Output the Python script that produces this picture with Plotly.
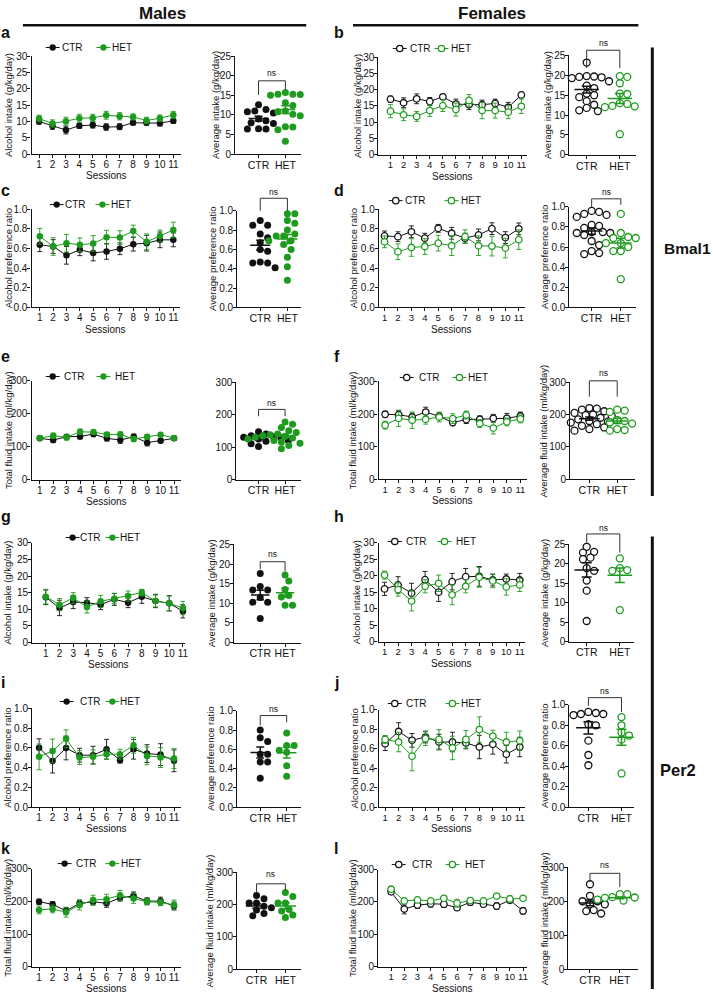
import plotly.graph_objects as go
import numpy as np

W, H = 713, 999
FONT = "Liberation Sans, Arial, sans-serif"
BLACK = "#111111"
GREEN = "#1E9B1E"

SESSIONS = list(range(1, 12))
GROUPS = ["CTR", "HET"]

# ---------------- data ----------------
# a: males Bmal1 alcohol intake
a_ctr = [10.0, 8.6, 7.4, 8.7, 8.9, 8.3, 8.4, 9.6, 9.6, 9.5, 10.2]
a_ctr_sem = [0.8, 1.0, 1.2, 0.8, 0.9, 1.0, 0.9, 0.6, 0.7, 0.9, 0.8]
a_het = [10.9, 9.4, 10.1, 11.0, 11.1, 11.9, 11.6, 11.4, 10.3, 11.0, 12.0]
a_het_sem = [1.0, 1.1, 1.2, 1.2, 1.1, 1.2, 1.1, 0.9, 1.0, 1.0, 1.1]
a_avg_ctr = [12.6, 11.4, 11.0, 10.8, 10.5, 9.0, 8.5, 8.0, 7.8, 6.5, 6.4, 6.4]
a_avg_het = [15.7, 15.3, 15.3, 15.2, 15.0, 14.6, 13.1, 12.4, 11.0, 10.8, 10.2, 9.8, 7.0, 6.9, 6.2, 3.3]

# b: females Bmal1 alcohol intake
b_ctr = [17.1, 16.0, 17.2, 16.4, 17.8, 15.6, 15.4, 15.4, 15.8, 14.6, 18.4]
b_ctr_sem = [0.9, 1.5, 1.5, 1.2, 0.8, 1.5, 1.5, 1.4, 1.3, 1.5, 0.8]
b_het = [13.4, 12.3, 11.8, 13.6, 15.1, 13.9, 16.7, 13.6, 13.6, 13.1, 14.9]
b_het_sem = [2.0, 1.8, 1.5, 1.8, 1.8, 2.0, 1.8, 2.5, 2.3, 2.0, 2.2]
b_avg_ctr = [23.2, 19.8, 19.7, 19.6, 19.5, 19.3, 18.5, 17.4, 16.8, 15.4, 15.0, 14.5, 13.5, 12.6, 11.8, 11.2, 11.0]
b_avg_het = [19.8, 19.6, 18.0, 15.4, 15.3, 13.0, 12.8, 12.3, 12.2, 12.0, 5.2]

# c: males Bmal1 preference ratio
c_ctr = [0.638, 0.62, 0.53, 0.587, 0.554, 0.57, 0.597, 0.644, 0.654, 0.688, 0.688]
c_ctr_sem = [0.07, 0.07, 0.09, 0.06, 0.08, 0.08, 0.06, 0.07, 0.08, 0.08, 0.07]
c_het = [0.725, 0.62, 0.654, 0.638, 0.651, 0.715, 0.711, 0.778, 0.668, 0.728, 0.788]
c_het_sem = [0.08, 0.09, 0.09, 0.07, 0.08, 0.07, 0.07, 0.06, 0.08, 0.06, 0.08]
c_avg_ctr = [0.90, 0.85, 0.85, 0.76, 0.72, 0.67, 0.60, 0.58, 0.47, 0.46, 0.46, 0.41]
c_avg_het = [0.97, 0.97, 0.90, 0.87, 0.80, 0.76, 0.74, 0.74, 0.74, 0.69, 0.69, 0.65, 0.60, 0.52, 0.42, 0.28]

# d: females Bmal1 preference ratio
d_ctr = [0.728, 0.72, 0.77, 0.705, 0.805, 0.755, 0.705, 0.738, 0.802, 0.711, 0.80]
d_ctr_sem = [0.05, 0.05, 0.06, 0.05, 0.04, 0.06, 0.05, 0.06, 0.06, 0.06, 0.06]
d_het = [0.668, 0.567, 0.61, 0.62, 0.654, 0.628, 0.72, 0.628, 0.624, 0.604, 0.69]
d_het_sem = [0.06, 0.08, 0.09, 0.08, 0.08, 0.10, 0.07, 0.10, 0.10, 0.10, 0.10]
d_avg_ctr = [0.96, 0.95, 0.93, 0.92, 0.90, 0.82, 0.81, 0.79, 0.75, 0.75, 0.74, 0.74, 0.73, 0.72, 0.66, 0.62, 0.56, 0.54, 0.53]
d_avg_het = [0.93, 0.74, 0.70, 0.69, 0.69, 0.64, 0.64, 0.60, 0.56, 0.56, 0.28]

# e: males Bmal1 total fluid intake
e_ctr = [125, 120, 130, 131, 138, 125, 120, 130, 112, 118, 125]
e_ctr_sem = [6, 8, 6, 8, 8, 8, 10, 8, 10, 6, 6]
e_het = [126, 133, 128, 145, 144, 137, 137, 123, 130, 136, 126]
e_het_sem = [6, 8, 8, 8, 6, 6, 8, 8, 6, 6, 6]
e_avg_ctr = [147, 140, 135, 132, 130, 128, 125, 122, 120, 118, 110, 102]
e_avg_het = [177, 170, 160, 150, 145, 140, 138, 136, 135, 133, 132, 130, 130, 128, 125, 120, 116, 112, 105, 95]

# f: females Bmal1 total fluid intake
f_ctr = [199, 198, 191, 206, 193, 174, 183, 184, 187, 187, 194]
f_ctr_sem = [10, 12, 12, 15, 10, 10, 12, 10, 12, 15, 12]
f_het = [166, 187, 181, 184, 191, 186, 197, 171, 157, 176, 185]
f_het_sem = [12, 25, 25, 15, 15, 15, 12, 12, 18, 12, 12]
f_avg_ctr = [220, 218, 215, 210, 205, 200, 198, 195, 190, 185, 180, 178, 175, 170, 165, 160, 155, 150]
f_avg_het = [215, 212, 208, 183, 180, 176, 172, 155, 152, 150]

# g: males Per2 alcohol intake
g_ctr = [13.6, 10.4, 12.2, 12.0, 11.4, 13.0, 12.0, 13.8, 12.5, 11.8, 9.4]
g_ctr_sem = [2.2, 2.3, 2.0, 1.5, 1.5, 1.8, 1.5, 2.0, 2.0, 2.3, 2.0]
g_het = [13.8, 11.4, 13.4, 10.7, 12.4, 13.2, 14.0, 15.0, 12.5, 11.8, 10.4]
g_het_sem = [2.2, 1.8, 1.6, 1.8, 1.8, 1.5, 1.5, 1.0, 1.8, 2.2, 2.0]
g_avg_ctr = [17.6, 14.3, 13.4, 13.4, 11.5, 10.3, 10.3, 6.1]
g_avg_het = [17.2, 15.7, 13.5, 12.0, 11.6, 9.5, 9.5]

# h: females Per2 alcohol intake
h_ctr = [16.0, 17.2, 14.7, 18.8, 15.0, 18.2, 19.7, 19.8, 18.7, 19.0, 18.7]
h_ctr_sem = [2.0, 2.5, 3.0, 2.5, 2.8, 2.5, 2.5, 3.0, 1.8, 1.5, 2.0]
h_het = [20.2, 15.8, 12.3, 16.8, 17.7, 14.2, 16.8, 19.5, 18.4, 16.6, 17.2]
h_het_sem = [1.2, 2.0, 3.0, 2.0, 2.5, 3.0, 2.0, 3.0, 2.0, 2.5, 2.0]
h_avg_ctr = [24.4, 23.1, 22.9, 21.6, 21.2, 18.9, 18.2, 15.7, 13.1, 5.3]
h_avg_het = [21.4, 18.9, 18.4, 18.2, 17.4, 8.1]

# i: males Per2 preference ratio
i_ctr = [0.603, 0.467, 0.60, 0.527, 0.527, 0.587, 0.477, 0.587, 0.543, 0.533, 0.47]
i_ctr_sem = [0.09, 0.12, 0.12, 0.07, 0.09, 0.10, 0.03, 0.10, 0.09, 0.11, 0.11]
i_het = [0.51, 0.57, 0.693, 0.503, 0.51, 0.537, 0.537, 0.627, 0.52, 0.503, 0.493]
i_het_sem = [0.13, 0.12, 0.09, 0.07, 0.07, 0.05, 0.05, 0.08, 0.09, 0.10, 0.10]
i_avg_ctr = [0.80, 0.72, 0.68, 0.55, 0.55, 0.47, 0.47, 0.30]
i_avg_het = [0.77, 0.64, 0.64, 0.59, 0.57, 0.43, 0.32]

# j: females Per2 preference ratio
j_ctr = [0.652, 0.777, 0.686, 0.72, 0.669, 0.669, 0.659, 0.618, 0.645, 0.544, 0.618]
j_ctr_sem = [0.07, 0.09, 0.07, 0.06, 0.08, 0.10, 0.06, 0.12, 0.10, 0.09, 0.10]
j_het = [0.696, 0.669, 0.524, 0.703, 0.696, 0.608, 0.696, 0.797, 0.73, 0.669, 0.682]
j_het_sem = [0.04, 0.10, 0.15, 0.07, 0.10, 0.12, 0.09, 0.13, 0.06, 0.10, 0.10]
j_avg_ctr = [0.93, 0.92, 0.91, 0.91, 0.90, 0.81, 0.80, 0.65, 0.51, 0.41]
j_avg_het = [0.88, 0.80, 0.73, 0.70, 0.66, 0.33]

# k: males Per2 total fluid intake
k_ctr = [199, 191, 171, 194, 199, 194, 211, 217, 201, 201, 186]
k_ctr_sem = [8, 8, 10, 10, 10, 12, 10, 12, 10, 12, 12]
k_het = [174, 177, 167, 189, 204, 207, 219, 209, 199, 197, 189]
k_het_sem = [12, 12, 15, 15, 15, 15, 15, 15, 10, 10, 15]
k_avg_ctr = [228, 218, 205, 205, 195, 190, 183, 172, 165]
k_avg_het = [237, 225, 205, 205, 185, 180, 168, 160]

# l: females Per2 total fluid intake
l_ctr = [231, 178, 190, 194, 193, 182, 199, 193, 187, 205, 172]
l_ctr_sem = [8, 15, 10, 10, 10, 8, 10, 8, 10, 8, 10]
l_het = [239, 203, 206, 203, 211, 196, 204, 203, 218, 209, 211]
l_het_sem = [8, 8, 8, 8, 6, 12, 8, 8, 8, 10, 6]
l_avg_ctr = [250, 216, 200, 200, 191, 191, 174, 171, 164]
l_avg_het = [221, 221, 212, 211, 210, 208, 205, 202, 200]

DATA = {
    "a": (a_ctr, a_ctr_sem, a_het, a_het_sem, a_avg_ctr, a_avg_het),
    "b": (b_ctr, b_ctr_sem, b_het, b_het_sem, b_avg_ctr, b_avg_het),
    "c": (c_ctr, c_ctr_sem, c_het, c_het_sem, c_avg_ctr, c_avg_het),
    "d": (d_ctr, d_ctr_sem, d_het, d_het_sem, d_avg_ctr, d_avg_het),
    "e": (e_ctr, e_ctr_sem, e_het, e_het_sem, e_avg_ctr, e_avg_het),
    "f": (f_ctr, f_ctr_sem, f_het, f_het_sem, f_avg_ctr, f_avg_het),
    "g": (g_ctr, g_ctr_sem, g_het, g_het_sem, g_avg_ctr, g_avg_het),
    "h": (h_ctr, h_ctr_sem, h_het, h_het_sem, h_avg_ctr, h_avg_het),
    "i": (i_ctr, i_ctr_sem, i_het, i_het_sem, i_avg_ctr, i_avg_het),
    "j": (j_ctr, j_ctr_sem, j_het, j_het_sem, j_avg_ctr, j_avg_het),
    "k": (k_ctr, k_ctr_sem, k_het, k_het_sem, k_avg_ctr, k_avg_het),
    "l": (l_ctr, l_ctr_sem, l_het, l_het_sem, l_avg_ctr, l_avg_het),
}

INTAKE_L = "Alcohol intake (g/kg/day)"
PREF_L = "Alcohol preference ratio"
FLUID_L = "Total fluid intake (ml/kg/day)"
INTAKE_S = "Average intake (g/kg/day)"
PREF_S = "Average preference ratio"
FLUID_S = "Average fluid intake (ml/kg/day)"

# ---------------- layout spec (pixels) ----------------
# line: x0, x1, tick1 px, tick11 px, ytop, ybot ; scatter: x0, x1, ctr px, het px, ytop, ybot
P = {
 "a": dict(fem=False, kind="int", zero=False, line=(31.7, 182, 39.3, 174.3, 50.7, 150), sc=(236.5, 303, 260, 287, 50.7, 150),
           lt=8, st=216, leg=(53, 61, 104, 112, 42), br=(18.7, 15.1, 16.5, 20.8), ltitle=INTAKE_L, stitle=INTAKE_S),
 "b": dict(fem=True, kind="int", zero=True, line=(380.5, 530, 392.7, 524.3, 51.7, 150.7), sc=(572.7, 640, 590, 623.3, 50, 150.7),
           lt=360, st=550, leg=(402, 411, 444, 453, 43), br=(26.3, 21.8, 21.8, 28.1), ltitle=INTAKE_L, stitle=INTAKE_S),
 "c": dict(fem=False, kind="pref", zero=False, line=(31.7, 181, 40, 174.3, 205.7, 305), sc=(238.5, 303, 261.7, 289, 207.3, 305),
           lt=8, st=213, leg=(57, 64, 103, 111, 201), br=(1.13, 1.0, 1.0, 1.19), ltitle=PREF_L, stitle=PREF_S),
 "d": dict(fem=True, kind="pref", zero=False, line=(381, 528, 386.7, 521.7, 205.7, 305), sc=(572.7, 640, 595, 624.3, 203.3, 305),
           lt=355, st=547, leg=(398, 406, 454, 463, 197), br=(1.08, 1.0, 1.02, 1.15), ltitle=PREF_L, stitle=PREF_S),
 "e": dict(fem=False, kind="fluid", zero=False, line=(31.7, 182, 40, 175, 379.3, 479.3), sc=(237.7, 303, 260, 286.7, 380.7, 479.3),
           lt=8, st=None, leg=(53, 63, 104, 115, 375), br=(216, 195, 195, 236), ltitle=FLUID_L, stitle=None),
 "f": dict(fem=True, kind="fluid", zero=False, line=(380.7, 530, 387.3, 523.3, 380, 479), sc=(573.3, 639, 592.7, 620.7, 380.7, 479),
           lt=354, st=547, leg=(409, 420, 462, 470, 376), br=(304, 255, 255, 328), ltitle=FLUID_L, stitle=FLUID_S),
 "g": dict(fem=False, kind="int", zero=True, line=(32.3, 186, 46, 184, 543.3, 644.3), sc=(235.5, 303, 261.7, 286.7, 545, 644.3),
           lt=8, st=213, leg=(73, 79, 113, 120, 538), br=(20.6, 18.7, 18.1, 22.6), ltitle=INTAKE_L, stitle=INTAKE_S),
 "h": dict(fem=True, kind="int", zero=False, line=(380.7, 528, 386.7, 522.7, 543.3, 643.3), sc=(572.7, 638, 590, 623.3, 545, 643.3),
           lt=358, st=547, leg=(397, 407, 447, 458, 542), br=(27.7, 25.4, 22.9, 29.2), ltitle=INTAKE_L, stitle=INTAKE_S),
 "i": dict(fem=False, kind="pref", zero=False, line=(32.3, 182, 39.3, 175, 711, 811), sc=(238.5, 303, 261.7, 288.3, 713.3, 811),
           lt=8, st=212, leg=(67, 79, 113, 120, 704), br=(0.95, 0.85, 0.88, 1.02), ltitle=PREF_L, stitle=PREF_S),
 "j": dict(fem=True, kind="pref", zero=False, line=(380.7, 528, 387.3, 522.7, 712.3, 811), sc=(572.7, 638, 591.7, 625, 707.3, 811),
           lt=357, st=547, leg=(397, 407, 455, 463, 706), br=(1.07, 0.99, 0.93, 1.13), ltitle=PREF_L, stitle=PREF_S),
 "k": dict(fem=False, kind="fluid", zero=False, line=(32, 182, 39.3, 175, 873.3, 972.3), sc=(238.5, 303, 258, 287, 876.7, 975),
           lt=8, st=211, leg=(65, 75, 113, 121, 868), br=(264, 239, 244, 295), ltitle=FLUID_L, stitle=FLUID_S),
 "l": dict(fem=True, kind="fluid", zero=True, line=(380.3, 530, 393.3, 526, 874, 972.3), sc=(571.7, 642, 593.3, 623.3, 871.7, 975),
           lt=354, st=547, leg=(401, 413, 455, 467, 869), br=(282, 261, 242, 306), ltitle=FLUID_L, stitle=FLUID_S),
}
LETTER_POS = {"a": (0, 27), "b": (335, 27), "c": (0, 187), "d": (335, 187), "e": (0, 355), "f": (335, 355),
              "g": (0, 517), "h": (335, 517), "i": (0, 685), "j": (335, 685), "k": (0, 853), "l": (335, 853)}

YSPEC = {  # line ymax, line dtick, scatter ymax, scatter dtick, format
    "int": (30, 5, 25, 5, None),
    "pref": (1.0, 0.2, 1.0, 0.2, ".1f"),
    "fluid": (300, 100, 300, 100, None),
}


def X(x):
    return x / W


def Y(y):
    return 1 - y / H


fig = go.Figure()
layout = {}
shapes = []
ann = []


def add_text(x, y, text, size, xanchor="center", angle=0):
    ann.append(dict(x=X(x), y=Y(y), xref="paper", yref="paper", text=text, showarrow=False,
                    xanchor=xanchor, yanchor="middle", textangle=angle, borderpad=0,
                    font=dict(family=FONT, size=size, color=BLACK)))


def axis_style(**kw):
    d = dict(showline=True, linecolor=BLACK, linewidth=1.2, ticks="outside", ticklen=3, tickwidth=1.2,
             tickcolor=BLACK, showgrid=False, zeroline=False, fixedrange=True, tickangle=0,
             ticklabelstandoff=-2,
             tickfont=dict(family=FONT, size=10, color=BLACK))
    d.update(kw)
    return d


def swarm(vals, ymax, ytop, ybot, unitpx, diam=6.8):
    ypx = [ybot - v / ymax * (ybot - ytop) for v in vals]
    order = sorted(range(len(vals)), key=lambda i: -vals[i])
    placed = []
    offs = [0.0] * len(vals)
    cands = [0.0]
    for k in range(1, 12):
        cands += [k * diam * 0.55, -k * diam * 0.55]
    for i in order:
        for c in cands:
            ok = all((c - px_) ** 2 + (ypx[i] - py_) ** 2 >= (diam * 0.98) ** 2 for px_, py_ in placed)
            if ok:
                offs[i] = c / unitpx
                placed.append((c, ypx[i]))
                break
    return offs


n = 0
for letter, spec in P.items():
    ctr, ctr_sem, het, het_sem, avg_ctr, avg_het = DATA[letter]
    lymax, ldt, symax, sdt, fmt = YSPEC[spec["kind"]]
    fem = spec["fem"]

    # ---- line panel ----
    n += 1
    x0, x1, t1, t11, yt, yb = spec["line"]
    unit = (t11 - t1) / 10
    xr = [1 + (x0 - t1) / unit, 1 + (x1 - t1) / unit]
    tv = list(range(0 if spec["zero"] else 1, 12))
    layout[f"xaxis{n}"] = axis_style(domain=[X(x0), X(x1)], range=xr, tickvals=tv, anchor=f"y{n}",
                                     tickfont=dict(family=FONT, size=9.5 if fem else 10, color=BLACK))
    layout[f"yaxis{n}"] = axis_style(domain=[Y(yb), Y(yt)], range=[0, lymax], dtick=ldt, tick0=0,
                                     tickformat=fmt, anchor=f"x{n}")
    for vals, sem, col in ((ctr, ctr_sem, BLACK), (het, het_sem, GREEN)):
        fig.add_trace(go.Scatter(
            x=SESSIONS, y=vals, mode="lines+markers", xaxis=f"x{n}", yaxis=f"y{n}",
            line=dict(color=col, width=1),
            marker=dict(size=6.5, color="white" if fem else col, symbol="circle",
                        line=dict(color=col, width=1.3 if fem else 0)),
            error_y=dict(type="data", array=sem, color=col, thickness=0.9, width=2.5),
            showlegend=False, cliponaxis=False))
    add_text((x0 + x1) / 2, yb + 22, "Sessions", 10)
    add_text(spec["lt"], (yt + yb) / 2, spec["ltitle"], 9.5, angle=-90)
    # legend
    mc, tc, mh, th, ly = spec["leg"]
    for mx, tx, col, name in ((mc, tc, BLACK, "CTR"), (mh, th, GREEN, "HET")):
        shapes.append(dict(type="line", xref="paper", yref="paper", x0=X(mx - 7), x1=X(mx + 7), y0=Y(ly), y1=Y(ly),
                           line=dict(color=col, width=1)))
        shapes.append(dict(type="circle", xref="paper", yref="paper", x0=X(mx - 3.2), x1=X(mx + 3.2),
                           y0=Y(ly + 3.2), y1=Y(ly - 3.2), fillcolor="white" if fem else col,
                           line=dict(color=col, width=1.3 if fem else 0)))
        add_text(tx, ly, name, 10, xanchor="left")

    # ---- scatter panel ----
    n += 1
    sx0, sx1, cpx, hpx, syt, syb = spec["sc"]
    su = hpx - cpx
    sxr = [(sx0 - cpx) / su, (sx1 - cpx) / su]
    layout[f"xaxis{n}"] = axis_style(domain=[X(sx0), X(sx1)], range=sxr, tickvals=[0, 1], ticktext=GROUPS,
                                     anchor=f"y{n}", tickfont=dict(family=FONT, size=10.5, color=BLACK))
    layout[f"yaxis{n}"] = axis_style(domain=[Y(syb), Y(syt)], range=[0, symax], dtick=sdt, tick0=0,
                                     tickformat=fmt, anchor=f"x{n}")
    for gi, (vals, col) in enumerate(((avg_ctr, BLACK), (avg_het, GREEN))):
        offs = swarm(vals, symax, syt, syb, su)
        fig.add_trace(go.Scatter(
            x=[gi + o for o in offs], y=vals, mode="markers", xaxis=f"x{n}", yaxis=f"y{n}",
            marker=dict(size=7, color="white" if fem else col, line=dict(color=col, width=1.3 if fem else 0)),
            showlegend=False, cliponaxis=False))
        m = float(np.mean(vals))
        s = float(np.std(vals, ddof=1) / np.sqrt(len(vals)))
        hw, cw = 0.37, 0.15
        fig.add_trace(go.Scatter(
            x=[gi - hw, gi + hw, None, gi, gi, None, gi - cw, gi + cw, None, gi - cw, gi + cw],
            y=[m, m, None, m - s, m + s, None, m - s, m - s, None, m + s, m + s],
            mode="lines", line=dict(color=col, width=1.5), xaxis=f"x{n}", yaxis=f"y{n}",
            showlegend=False, hoverinfo="skip"))
    # ns bracket (paper coords)
    top, lc, lh, nsy = spec["br"]

    def spy(v):
        return syb - v / symax * (syb - syt)

    shapes.append(dict(type="path", xref="paper", yref="paper",
                       path=f"M {X(cpx)} {Y(spy(lc))} L {X(cpx)} {Y(spy(top))} L {X(hpx)} {Y(spy(top))} L {X(hpx)} {Y(spy(lh))}",
                       line=dict(color="#333333", width=1)))
    add_text((cpx + hpx) / 2, spy(nsy), "ns", 8.5)
    if spec["stitle"]:
        add_text(spec["st"], (syt + syb) / 2, spec["stitle"], 9.5, angle=-90)
    lx, lyy = LETTER_POS[letter]
    add_text(lx, lyy, f"<b>{letter}</b>", 16, xanchor="left")

# headers
add_text(163, 8, "<b>Males</b>", 17)
add_text(495, 8, "<b>Females</b>", 17)
shapes.append(dict(type="line", xref="paper", yref="paper", x0=X(23), x1=X(308), y0=Y(19.5), y1=Y(19.5),
                   line=dict(color=BLACK, width=2.5)))
shapes.append(dict(type="line", xref="paper", yref="paper", x0=X(355), x1=X(642), y0=Y(19.5), y1=Y(19.5),
                   line=dict(color=BLACK, width=2.5)))
# gene bars
shapes.append(dict(type="line", xref="paper", yref="paper", x0=X(656), x1=X(656), y0=Y(42), y1=Y(496),
                   line=dict(color=BLACK, width=3)))
shapes.append(dict(type="line", xref="paper", yref="paper", x0=X(656), x1=X(656), y0=Y(537), y1=Y(995),
                   line=dict(color=BLACK, width=3)))
add_text(667, 245, "<b>Bmal1</b>", 15.5, xanchor="left")
add_text(663, 773, "<b>Per2</b>", 16.5, xanchor="left")

fig.update_layout(**layout)
fig.update_layout(width=W, height=H, autosize=False, margin=dict(l=0, r=0, t=0, b=0),
                  paper_bgcolor="white", plot_bgcolor="white", showlegend=False,
                  shapes=shapes, annotations=ann, font=dict(family=FONT, color=BLACK))
fig.write_html("out.html", config={"displayModeBar": False},
               post_script="document.body.style.margin='0px';document.body.style.overflow='hidden';")
